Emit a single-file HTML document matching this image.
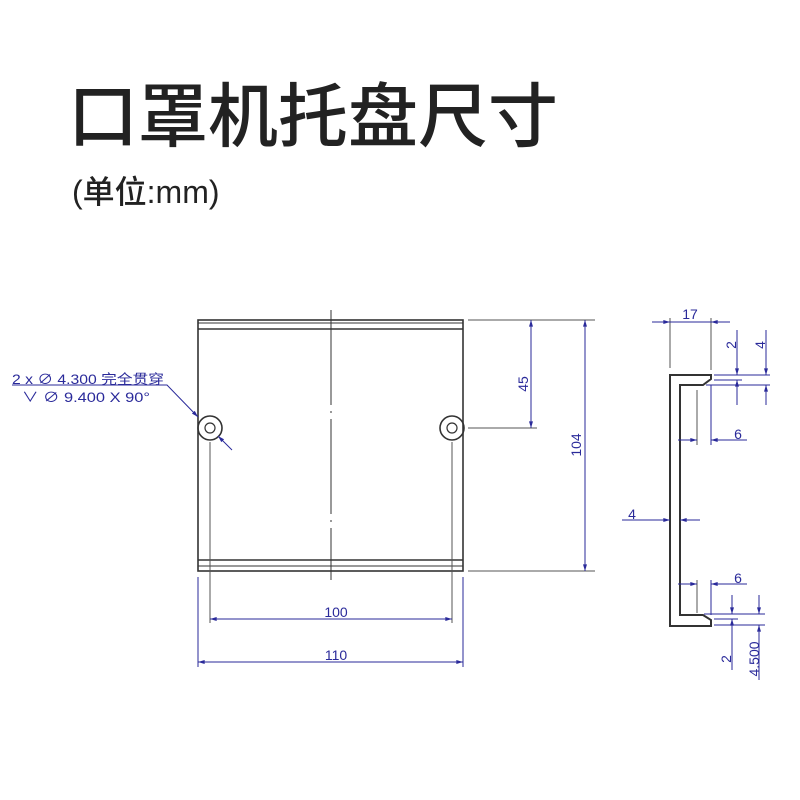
<!DOCTYPE html>
<html><head><meta charset="utf-8"><style>
html,body{margin:0;padding:0;background:#fff;}
svg{display:block}
</style></head><body>
<svg width="800" height="800" xmlns="http://www.w3.org/2000/svg">
<defs>
<marker id="a" viewBox="0 0 10 6" refX="10" refY="3" markerWidth="7" markerHeight="4" orient="auto-start-reverse" markerUnits="userSpaceOnUse"><path d="M0,0 L10,3 L0,6z" fill="#2a2a9a"/></marker>
</defs>
<text x="68" y="141" font-family="'Noto Sans CJK SC',sans-serif" font-size="70" font-weight="500" fill="#222" letter-spacing="0">口罩机托盘尺寸</text>
<text x="72" y="203" font-family="'Liberation Sans','Noto Sans CJK SC',sans-serif" font-size="32" font-weight="500" fill="#222">(单位:mm)</text>

<g stroke="#333" stroke-width="1.6" fill="none">
<rect x="198" y="320" width="265" height="251"/>
<line x1="198" y1="323" x2="463" y2="323" stroke-width="1"/>
<line x1="198" y1="329" x2="463" y2="329"/>
<line x1="198" y1="560" x2="463" y2="560"/>
<line x1="198" y1="566" x2="463" y2="566" stroke-width="1"/>
<line x1="331" y1="310" x2="331" y2="580" stroke-width="1" stroke-dasharray="95,6,2,6"/>
<circle cx="210" cy="428" r="12"/><circle cx="210" cy="428" r="5" stroke-width="1.2"/>
<circle cx="452" cy="428" r="12"/><circle cx="452" cy="428" r="5" stroke-width="1.2"/>
<path d="M670,375 H711 V379 L703,385 H680 V615 H703 L711,620 V626 H670 Z" stroke-width="2"/>
</g>

<g stroke="#2a2a9a" stroke-width="1" fill="none">
<line x1="210" y1="442" x2="210" y2="623" stroke="#555"/>
<line x1="452" y1="442" x2="452" y2="623" stroke="#555"/>
<line x1="198" y1="577" x2="198" y2="667"/>
<line x1="463" y1="577" x2="463" y2="667"/>
<line x1="210" y1="619" x2="452" y2="619" marker-start="url(#a)" marker-end="url(#a)"/>
<line x1="198" y1="662" x2="463" y2="662" marker-start="url(#a)" marker-end="url(#a)"/>
<polyline points="12,385 167,385 198,417" marker-end="url(#a)"/>
<line x1="232" y1="450" x2="218" y2="436" marker-end="url(#a)"/>
<line x1="468" y1="320" x2="595" y2="320" stroke="#555"/>
<line x1="468" y1="428" x2="537" y2="428" stroke="#555"/>
<line x1="468" y1="571" x2="595" y2="571" stroke="#555"/>
<line x1="531" y1="320" x2="531" y2="428" marker-start="url(#a)" marker-end="url(#a)"/>
<line x1="585" y1="320" x2="585" y2="571" marker-start="url(#a)" marker-end="url(#a)"/>
<line x1="670" y1="318" x2="670" y2="368" stroke="#555"/>
<line x1="711" y1="318" x2="711" y2="370" stroke="#555"/>
<line x1="652" y1="322" x2="670" y2="322" marker-end="url(#a)"/>
<line x1="730" y1="322" x2="711" y2="322" marker-end="url(#a)"/>
<line x1="670" y1="322" x2="711" y2="322"/>
<line x1="714" y1="375" x2="770" y2="375"/><line x1="714" y1="380" x2="742" y2="380"/><line x1="706" y1="385" x2="770" y2="385"/>
<line x1="737" y1="330" x2="737" y2="375" marker-end="url(#a)"/><line x1="737" y1="405" x2="737" y2="380" marker-end="url(#a)"/>
<line x1="766" y1="330" x2="766" y2="375" marker-end="url(#a)"/><line x1="766" y1="405" x2="766" y2="385" marker-end="url(#a)"/>
<line x1="697" y1="390" x2="697" y2="445" stroke="#555"/>
<line x1="711" y1="385" x2="711" y2="445"/>
<line x1="678" y1="440" x2="697" y2="440" marker-end="url(#a)"/><line x1="747" y1="440" x2="711" y2="440" marker-end="url(#a)"/>
<line x1="622" y1="520" x2="670" y2="520" marker-end="url(#a)"/><line x1="700" y1="520" x2="680" y2="520" marker-end="url(#a)"/>
<line x1="697" y1="580" x2="697" y2="613" stroke="#555"/>
<line x1="711" y1="580" x2="711" y2="615"/>
<line x1="678" y1="584" x2="697" y2="584" marker-end="url(#a)"/><line x1="747" y1="584" x2="711" y2="584" marker-end="url(#a)"/>
<line x1="704" y1="614" x2="765" y2="614"/><line x1="714" y1="619" x2="738" y2="619"/><line x1="714" y1="625" x2="765" y2="625"/>
<line x1="732" y1="595" x2="732" y2="614" marker-end="url(#a)"/><line x1="732" y1="670" x2="732" y2="619" marker-end="url(#a)"/>
<line x1="759" y1="595" x2="759" y2="614" marker-end="url(#a)"/><line x1="759" y1="680" x2="759" y2="625" marker-end="url(#a)"/>
</g>

<g font-family="'Liberation Sans','Noto Sans CJK SC',sans-serif" fill="#2a2a9a" font-size="14">
<text x="336" y="617" text-anchor="middle">100</text>
<text x="336" y="660" text-anchor="middle">110</text>
<text x="12" y="384" font-size="13.5" textLength="152" lengthAdjust="spacingAndGlyphs">2 x ∅ 4.300 完全贯穿</text>
<text x="22" y="402" font-size="13.5" textLength="128" lengthAdjust="spacingAndGlyphs">∨ ∅ 9.400 X 90°</text>
<text transform="translate(528,384) rotate(-90)" text-anchor="middle">45</text>
<text transform="translate(581,445) rotate(-90)" text-anchor="middle">104</text>
<text x="690" y="319" text-anchor="middle">17</text>
<text transform="translate(736,345) rotate(-90)" text-anchor="middle">2</text>
<text transform="translate(765,345) rotate(-90)" text-anchor="middle">4</text>
<text x="738" y="439" text-anchor="middle">6</text>
<text x="632" y="519" text-anchor="middle">4</text>
<text x="738" y="583" text-anchor="middle">6</text>
<text transform="translate(731,659) rotate(-90)" text-anchor="middle">2</text>
<text transform="translate(759,659) rotate(-90)" text-anchor="middle">4.500</text>
</g>
</svg>
</body></html>
